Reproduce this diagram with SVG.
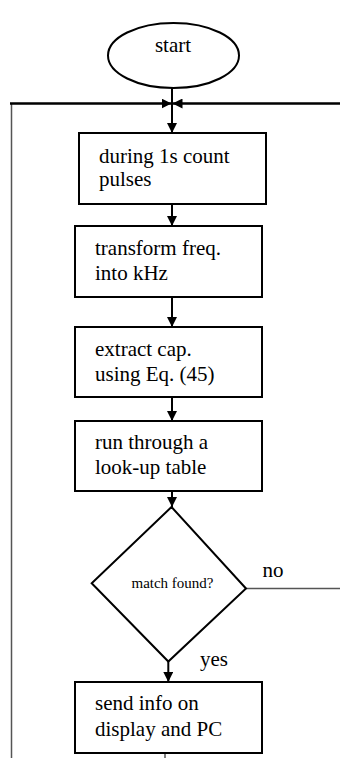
<svg xmlns="http://www.w3.org/2000/svg" width="340" height="758" viewBox="0 0 340 758">
<defs>
<marker id="ah" markerWidth="10" markerHeight="10" refX="10" refY="5" orient="auto" markerUnits="userSpaceOnUse">
<path d="M0,0 L10,5 L0,10 Z" fill="#000"/>
</marker>
<style>
.box{fill:#fff;stroke:#000;stroke-width:2}
.t{font-family:"Liberation Serif","Times New Roman",serif;font-size:21px;fill:#000}
.ts{font-family:"Liberation Serif","Times New Roman",serif;font-size:15px;fill:#000}
.c{stroke:#000;stroke-width:2;fill:none}
.thin{stroke:#555;stroke-width:1.5;fill:none}
</style>
</defs>
<rect width="340" height="758" fill="#fff"/>
<g id="connectors">
<line class="thin" x1="11.5" y1="103" x2="11.5" y2="758"/>
<line class="c" x1="10" y1="103.5" x2="340" y2="103.5" stroke-width="2.5"/>
<line class="c" x1="10" y1="103.5" x2="171.5" y2="103.5" marker-end="url(#ah)"/>
<line class="c" x1="340" y1="103.5" x2="172.5" y2="103.5" marker-end="url(#ah)"/>
<line class="c" x1="172" y1="88" x2="172" y2="133" marker-end="url(#ah)"/>
<line class="c" x1="172" y1="204" x2="172" y2="226" marker-end="url(#ah)"/>
<line class="c" x1="172" y1="297" x2="172" y2="327" marker-end="url(#ah)"/>
<line class="c" x1="172" y1="397" x2="172" y2="421" marker-end="url(#ah)"/>
<line class="c" x1="172" y1="491" x2="172" y2="507" marker-end="url(#ah)"/>
<line class="thin" x1="246" y1="588.5" x2="340" y2="588.5"/>
<line class="c" x1="168.3" y1="661" x2="168.3" y2="682" marker-end="url(#ah)"/>
<line class="thin" x1="165" y1="754" x2="165" y2="758"/>
<text class="t" x="262.5" y="577">no</text>
<text class="t" x="200" y="666">yes</text>
</g>
<g id="start">
<ellipse cx="173.5" cy="55.5" rx="65.5" ry="32.5" fill="#fff" stroke="#000" stroke-width="2"/>
<text class="t" x="173" y="52" text-anchor="middle">start</text>
</g>
<g id="count">
<rect class="box" x="79" y="133" width="187" height="71"/>
<text class="t" x="99" y="163">during 1s count</text>
<text class="t" x="99" y="186">pulses</text>
</g>
<g id="transform">
<rect class="box" x="75" y="226" width="187" height="71"/>
<text class="t" x="95" y="255">transform freq.</text>
<text class="t" x="95" y="280">into kHz</text>
</g>
<g id="extract">
<rect class="box" x="75" y="327" width="187" height="70"/>
<text class="t" x="95" y="356">extract cap.</text>
<text class="t" x="95" y="381">using Eq. (45)</text>
</g>
<g id="lookup">
<rect class="box" x="75" y="421" width="187" height="70"/>
<text class="t" x="95" y="449">run through a</text>
<text class="t" x="95" y="474">look-up table</text>
</g>
<g id="match">
<polygon points="171.5,507 246,588.5 168.3,661.5 91.7,583.3" fill="#fff" stroke="#000" stroke-width="2"/>
<text class="ts" x="172.5" y="588" text-anchor="middle">match found?</text>
</g>
<g id="send">
<rect class="box" x="75" y="682" width="187" height="71"/>
<text class="t" x="95" y="710">send info on</text>
<text class="t" x="95" y="736">display and PC</text>
</g>
</svg>
